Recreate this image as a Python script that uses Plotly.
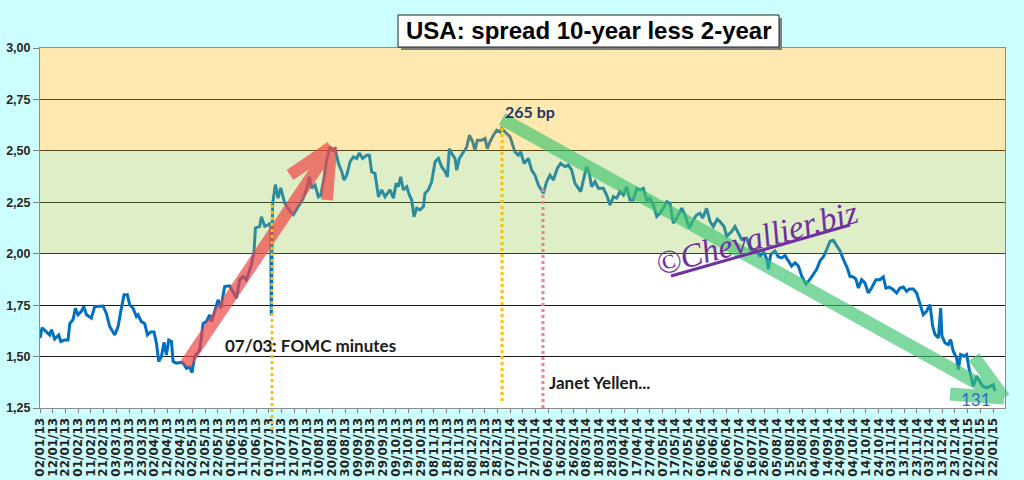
import plotly.graph_objects as go
import pandas as pd

start = pd.Timestamp("2013-01-02")

# days after 02/01/2013 and 10y-2y spread (%)
days = [
    0, 1.6, 5, 7.6, 9, 11.5, 14.7, 16.3, 19.4, 22,
    23.4, 26, 27.8, 29.9, 32.5, 34.4, 36.5, 40.4, 43, 49.6,
    52.2, 54.8, 58.8, 61.4, 64, 66.1, 68.7, 70.6, 73.2, 75.8,
    77.1, 79.7, 82.4, 84.5, 87.1, 89.7, 91.6, 93.4, 95.5, 97.6,
    99.4, 101.3, 103.4, 104.7, 107.3, 109.9, 112.5, 115.2, 117.8, 119.6,
    121.7, 125.7, 128.3, 130.9, 133.5, 134.8, 137.5, 140.1, 142.2, 145.3,
    149.3, 151.9, 154.5, 157.1, 159.8, 162.4, 166.3, 168.4, 169.5, 172.9,
    174.2, 176.8, 179.4, 181.5, 182, 183, 185.2, 187.3, 189.4, 192.5,
    196.7, 199.4, 201.5, 204.6, 207.2, 209.9, 212, 213.8, 216.4, 219,
    220.9, 223.5, 225.6, 228.2, 230.3, 232.2, 234.8, 237.4, 239.2, 241.3,
    244, 246.6, 249.2, 251.3, 253.9, 257.1, 259.2, 261, 263.6, 266.3,
    268.9, 271.5, 275.4, 278.1, 280.2, 282, 283.8, 285.9, 288.6, 290.7,
    292.5, 294.3, 296.4, 299, 301.7, 303, 305.6, 308.2, 310.9, 313.5,
    316.1, 318.7, 320.6, 322.1, 324, 326.6, 327.9, 330, 333.2, 335.8,
    337.9, 340.5, 342.3, 344.2, 347.6, 350.2, 352, 354.1, 356.8, 359.4,
    362, 363.3,
    365.9, 369.9, 372.5, 373.8, 376.4, 378.3, 380.9, 384.3, 386.9, 389.5,
    392.2, 396.1, 398.7, 401.3, 404, 407.1, 409.7, 413.2, 415.8, 418.4,
    421, 422.9, 425.5, 427.6, 430.2, 432.3, 434.1, 436.8, 439.4, 443.3,
    445.9, 448.6, 451.2, 453.8, 456.4, 459.1, 461.7, 464.3, 466.9, 469.6,
    472.2, 474.8, 477.4, 480, 482.7, 485.3, 487.9, 490.5, 493.2, 495.8,
    498.4, 501, 505, 507.6, 511, 514.2, 516.8, 519.4, 521.5, 524.6,
    527.3, 529.9, 533, 535.1, 538.3, 540.4, 544.3, 546.9, 549.6, 552.2,
    556.1,
    560.1, 564, 566.6, 569.2, 571.9, 573.2, 575, 578.4, 581, 583.7,
    586.3, 588.9, 591.5, 594.2, 596.8, 599.4, 602.8, 606, 608.6, 611.2,
    613.8, 616.5, 619.1, 621.7, 624.3, 627, 629.6, 632.2, 635.3, 637.4,
    640, 642.1, 644, 646.6, 649.2, 651.8, 654.4, 657.9, 661, 663.6,
    665.7, 668.4, 671.5, 674.1, 676.7, 679.4, 682, 684.1, 687.2, 689.9,
    692.5, 695.1, 697.7, 700.4, 702.5, 704.3, 707, 708.8, 709.8, 712.2,
    714.8, 716.6, 718.7, 721.3, 722.7, 724.5, 727.1, 729.2, 731.3, 733.1,
    734.5, 737.1, 739.2, 741.8, 745, 747.6, 750.2, 751.5,
]
spread = [
    1.59, 1.64, 1.62, 1.605, 1.63, 1.585, 1.605, 1.573, 1.58, 1.58,
    1.66, 1.68, 1.735, 1.703, 1.72, 1.743, 1.703, 1.687, 1.743, 1.746,
    1.71, 1.646, 1.605, 1.646, 1.735, 1.80, 1.80, 1.752, 1.735, 1.695,
    1.703, 1.67, 1.66, 1.605, 1.62, 1.62, 1.565, 1.476, 1.50, 1.57,
    1.508, 1.58, 1.573, 1.476, 1.468, 1.471, 1.47, 1.443, 1.45, 1.422,
    1.50, 1.532, 1.66, 1.67, 1.703, 1.67, 1.72, 1.776, 1.735, 1.84,
    1.844, 1.817, 1.784, 1.873, 1.89, 1.873, 1.946, 2.01, 2.125, 2.133,
    2.18, 2.133, 2.14, 2.15, 1.70, 2.24, 2.336, 2.27, 2.32, 2.247,
    2.205, 2.19, 2.213, 2.245, 2.27, 2.318, 2.374, 2.318, 2.334, 2.277,
    2.285, 2.366, 2.455, 2.52, 2.503, 2.511, 2.44, 2.40, 2.358, 2.38,
    2.447, 2.471, 2.463, 2.49, 2.463, 2.479, 2.479, 2.398, 2.39, 2.277,
    2.31, 2.277, 2.31, 2.27, 2.342, 2.326, 2.374, 2.31, 2.326, 2.285,
    2.261, 2.18, 2.221, 2.213, 2.229, 2.294, 2.31, 2.35, 2.447, 2.463,
    2.423, 2.40, 2.374, 2.511, 2.487, 2.463, 2.406, 2.463, 2.495, 2.519,
    2.576, 2.544, 2.503, 2.552, 2.552, 2.56, 2.511, 2.544, 2.576, 2.60,
    2.592, 2.608,
    2.592, 2.568, 2.519, 2.495, 2.479, 2.495, 2.439, 2.463, 2.406, 2.382,
    2.334, 2.294, 2.35, 2.382, 2.358, 2.415, 2.439, 2.423, 2.431, 2.406,
    2.342, 2.326, 2.302, 2.358, 2.423, 2.39, 2.326, 2.35, 2.318, 2.318,
    2.285, 2.237, 2.277, 2.27, 2.302, 2.285, 2.326, 2.261, 2.261, 2.318,
    2.31, 2.318, 2.261, 2.27, 2.237, 2.181, 2.197, 2.221, 2.253, 2.245,
    2.148, 2.173, 2.221, 2.189, 2.124, 2.165, 2.189, 2.197, 2.173, 2.221,
    2.156, 2.132, 2.168, 2.156, 2.132, 2.084, 2.108, 2.132, 2.10, 2.068,
    2.076,
    2.005, 2.021, 1.985, 2.013, 1.973, 1.924, 1.997, 2.013, 1.985, 1.98,
    1.992, 1.965, 1.94, 1.956, 1.94, 1.892, 1.852, 1.876, 1.90, 1.924,
    1.965, 1.985, 2.021, 2.061, 2.065, 2.037, 2.013, 1.973, 1.93, 1.89,
    1.887, 1.877, 1.833, 1.874, 1.858, 1.809, 1.833, 1.874, 1.874, 1.887,
    1.833, 1.838, 1.825, 1.809, 1.833, 1.838, 1.817, 1.828, 1.828, 1.809,
    1.76, 1.704, 1.72, 1.752, 1.647, 1.607, 1.591, 1.736, 1.599, 1.566,
    1.558, 1.583, 1.526, 1.494, 1.437, 1.51, 1.502, 1.51, 1.437, 1.396,
    1.356, 1.405, 1.38, 1.356, 1.348, 1.356, 1.364, 1.332,
]
assert len(days) == len(spread)

dates = start + pd.to_timedelta(days, unit="D")

# plot area in pixels: x 40..1005, y 48..408
L, R, T, B = 40, 1005, 48, 408


def px(x):
    return (x - L) / (R - L)


def py(y):
    return (B - y) / (B - T)


def path(*segs):
    # every segment is its own subpath, so no sharp miter joins at the arrow tips
    out = ""
    for seg in segs:
        out += "M " + " L ".join(f"{px(x):.4f},{py(y):.4f}" for x, y in seg) + " "
    return out.strip()


fig = go.Figure()
fig.add_trace(go.Scatter(x=dates, y=spread, mode="lines",
                         line=dict(color="#0070C0", width=3),
                         showlegend=False, hoverinfo="skip"))

shapes = [
    # coloured bands, laid over the line like the original
    dict(type="rect", xref="paper", yref="y", x0=0, x1=1, y0=2.0, y1=2.5,
         fillcolor="rgba(148,203,77,0.31)", line_width=0, layer="above"),
    dict(type="rect", xref="paper", yref="y", x0=0, x1=1, y0=2.5, y1=3.0,
         fillcolor="rgba(255,184,0,0.31)", line_width=0, layer="above"),
    # red arrow
    dict(type="path", xref="paper", yref="paper",
         path=path([(185, 365), (331, 147)], [(290, 175), (331, 147)],
                   [(331, 147), (327, 200)]),
         line=dict(color="rgba(240,70,70,0.7)", width=12), layer="above"),
    # green arrow
    dict(type="path", xref="paper", yref="paper",
         path=path([(502, 119), (1004, 398)], [(950, 394), (1004, 398)],
                   [(974, 357), (1004, 398)]),
         line=dict(color="rgba(60,195,110,0.65)", width=13), layer="above"),
    # dotted markers
    dict(type="line", xref="paper", yref="paper", x0=px(272), x1=px(272),
         y0=py(205), y1=py(434), line=dict(color="#FFC000", width=3, dash="dot")),
    dict(type="line", xref="paper", yref="paper", x0=px(502), x1=px(502),
         y0=py(128), y1=py(402), line=dict(color="#FFC000", width=3, dash="dot")),
    dict(type="line", xref="paper", yref="paper", x0=px(543), x1=px(543),
         y0=py(189), y1=py(408), line=dict(color="#FF7C80", width=3, dash="dot")),
    # watermark underline
    dict(type="line", xref="paper", yref="paper", x0=px(671), x1=px(850),
         y0=py(276), y1=py(225), line=dict(color="#7030A0", width=3)),
    # title box with shadow
    dict(type="rect", xref="paper", yref="paper", x0=px(401), x1=px(782),
         y0=py(50), y1=py(18), fillcolor="#808080", line_width=0),
    dict(type="rect", xref="paper", yref="paper", x0=px(398), x1=px(779),
         y0=py(47), y1=py(15), fillcolor="white", line=dict(color="#222222", width=1)),
]

annotations = [
    dict(text="USA: spread 10-year less 2-year", x=px(588.5), y=py(31),
         xanchor="center",
         font=dict(family="Liberation Sans", size=24, color="black", weight="bold")),
    dict(text="265 bp", x=px(503), y=py(111), xanchor="left",
         font=dict(family="Lato", size=16, color="#1F3864", weight="bold")),
    dict(text="07/03: FOMC minutes", x=px(223), y=py(345), xanchor="left",
         font=dict(family="Lato", size=17, color="#1a1a1a", weight="bold")),
    dict(text="Janet Yellen...", x=px(547), y=py(382), xanchor="left",
         font=dict(family="Lato", size=17, color="#1a1a1a", weight="bold")),
    dict(text="131", x=px(976), y=py(399), xanchor="center",
         font=dict(family="Lato", size=17, color="#1F70C8")),
    dict(text="©Chevallier.biz", x=px(757), y=py(238), xanchor="center",
         textangle=-15,
         font=dict(family="Liberation Serif", size=33, color="#7030A0",
                   style="italic")),
]
for a in annotations:
    a.update(xref="paper", yref="paper", showarrow=False, yanchor="middle")

fig.update_layout(
    width=1024, height=480,
    margin=dict(l=L, r=1024 - R, t=T, b=480 - B),
    paper_bgcolor="#CCFFFF", plot_bgcolor="white",
    separators=", ",
    shapes=shapes, annotations=annotations,
    xaxis=dict(type="date", range=["2013-01-01 23:00", "2015-01-31 10:00"],
               tick0="2013-01-02", dtick=10 * 86400000, tickformat="%d/%m/%y",
               tickangle=-90, ticks="outside", ticklen=4, tickcolor="#808080",
               showgrid=False, showline=True, linecolor="#8C8C8C", mirror=True,
               automargin=False,
               tickfont=dict(family="DejaVu Sans", size=12, color="#262626",
                             weight="bold")),
    yaxis=dict(range=[1.25, 3.0], dtick=0.25, tickformat=".2f",
               ticks="outside", ticklen=6, tickcolor="#808080",
               showgrid=True, gridcolor="#1a1a1a", gridwidth=1, zeroline=False,
               showline=True, linecolor="#8C8C8C", mirror=True,
               automargin=False,
               tickfont=dict(family="Liberation Sans", size=12.5, color="#262626",
                             weight="bold")),
)

# the page body has a default 8px margin; drop it so the figure fills the window
fig.write_html("out.html", config={"displayModeBar": False},
               post_script="document.body.style.margin='0';")
